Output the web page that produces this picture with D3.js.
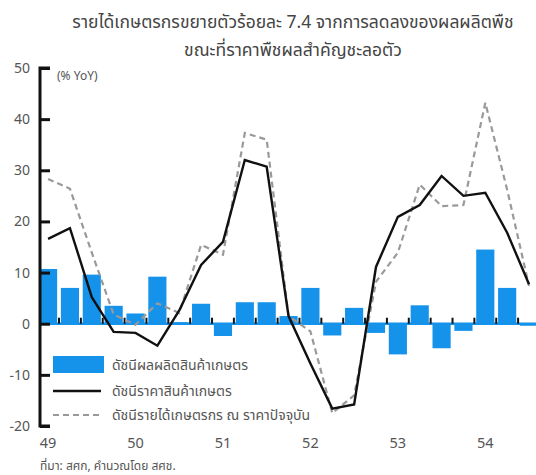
<!DOCTYPE html>
<html>
<head>
<meta charset="utf-8">
<script src="https://cdn.jsdelivr.net/npm/d3@7"></script>
<style>
  html, body { margin: 0; padding: 0; background: #fff; }
  svg { display: block; }
  text { font-family: Tahoma, "Noto Sans Thai", "Leelawadee UI", "Noto Sans", sans-serif; }
</style>
</head>
<body>
<svg id="chart" width="536" height="475"></svg>
<script>
// Quarterly series, 2549 Q1 – 2554 Q3 (% YoY)
const quarters = [
  "49Q1","49Q2","49Q3","49Q4",
  "50Q1","50Q2","50Q3","50Q4",
  "51Q1","51Q2","51Q3","51Q4",
  "52Q1","52Q2","52Q3","52Q4",
  "53Q1","53Q2","53Q3","53Q4",
  "54Q1","54Q2","54Q3"
];
// Agricultural production index
const production = [10.7, 7.0, 9.6, 3.5, 2.0, 9.2, 0.3, 3.9, -2.4, 4.2, 4.2, 1.5,
                    7.0, -2.3, 3.1, -1.8, -6.0, 3.6, -4.8, -1.4, 14.5, 7.0, -0.4];
// Agricultural price index
const price = [16.6, 18.7, 5.2, -1.6, -1.8, -4.3, 2.6, 11.5, 16.0, 32.0, 30.7, 1.5,
               -7.8, -16.6, -15.8, 11.1, 20.9, 23.2, 28.9, 25.0, 25.6, 17.8, 7.7];
// Farm income index at current prices
const income = [28.3, 26.4, 13.9, 1.8, -0.2, 4.0, 2.1, 15.4, 13.5, 37.3, 36.0, 1.5,
                -1.5, -17.5, -14.0, 8.2, 13.9, 27.2, 23.0, 23.2, 43.2, 26.2, 7.4];

const yTicks = [-20, -10, 0, 10, 20, 30, 40, 50];
const yearLabels = [
  { q: "49Q1", label: "49" }, { q: "50Q1", label: "50" }, { q: "51Q1", label: "51" },
  { q: "52Q1", label: "52" }, { q: "53Q1", label: "53" }, { q: "54Q1", label: "54" }
];
const titleLines = [
  "รายได้เกษตรกรขยายตัวร้อยละ 7.4 จากการลดลงของผลผลิตพืช",
  "ขณะที่ราคาพืชผลสำคัญชะลอตัว"
];
const legendItems = [
  { key: "bar", label: "ดัชนีผลผลิตสินค้าเกษตร" },
  { key: "solid", label: "ดัชนีราคาสินค้าเกษตร" },
  { key: "dash", label: "ดัชนีรายได้เกษตรกร ณ ราคาปัจจุบัน" }
];
const unitLabel = "(% YoY)";
const sourceNote = "ที่มา: สศก, คำนวณโดย สศช.";

const svg = d3.select("#chart");
const textColor = "#555";
const barColor = "#1592ea";

const x = d3.scaleBand().domain(quarters).range([39, 39 + 21.7 * quarters.length]).paddingInner(0.17).paddingOuter(0);
const y = d3.scaleLinear().domain([-20, 50]).range([426, 68]);
const cx = q => x(q) + x.bandwidth() / 2;

// Title
svg.append("g").selectAll("text").data(titleLines).join("text")
  .attr("x", 293).attr("y", (d, i) => 28 + i * 28)
  .attr("text-anchor", "middle")
  .attr("font-size", 17.5).attr("fill", "#444")
  .text(d => d);

// Bars
svg.append("g").selectAll("rect").data(quarters).join("rect")
  .attr("x", d => x(d))
  .attr("width", x.bandwidth())
  .attr("y", (d, i) => y(Math.max(0, production[i])))
  .attr("height", (d, i) => Math.abs(y(production[i]) - y(0)))
  .attr("fill", barColor);

// Zero baseline with small quarter separators
svg.append("line")
  .attr("x1", 40).attr("x2", 536)
  .attr("y1", y(0)).attr("y2", y(0))
  .attr("stroke", barColor).attr("stroke-width", 2.5);
svg.append("g").selectAll("line").data(quarters.slice(1)).join("line")
  .attr("x1", d => x(d) - x.step() * 0.085).attr("x2", d => x(d) - x.step() * 0.085)
  .attr("y1", y(0) - 6).attr("y2", y(0))
  .attr("stroke", "#111").attr("stroke-width", 2);

// Lines
const lineGen = vals => d3.line().x((d, i) => cx(quarters[i])).y(d => y(d))(vals);
svg.append("path").attr("d", lineGen(income))
  .attr("fill", "none").attr("stroke", "#999").attr("stroke-width", 2.2)
  .attr("stroke-dasharray", "6,4");
svg.append("path").attr("d", lineGen(price))
  .attr("fill", "none").attr("stroke", "#111").attr("stroke-width", 2.4)
  .attr("stroke-linejoin", "miter");

// Y axis
const yAxis = d3.axisRight(y).tickValues(yTicks).tickSize(10).tickFormat(d3.format("d"));
const yg = svg.append("g").attr("transform", "translate(40,0)").call(yAxis);
yg.select(".domain").attr("stroke", "#111").attr("stroke-width", 3).attr("d", `M10,${y(50)}H0V${y(-20)}H10`);
yg.selectAll(".tick line").attr("stroke", "#111").attr("stroke-width", 3);
yg.selectAll(".tick text")
  .attr("x", -10).attr("text-anchor", "end")
  .attr("font-size", 14).attr("fill", textColor);

svg.append("text").attr("x", 57).attr("y", 80)
  .attr("font-size", 12).attr("fill", textColor).text(unitLabel);

// Year labels
svg.append("g").selectAll("text").data(yearLabels).join("text")
  .attr("x", d => cx(d.q)).attr("y", 448)
  .attr("text-anchor", "middle")
  .attr("font-size", 14.5).attr("fill", textColor)
  .text(d => d.label);

// Legend
const lg = svg.append("g");
const legY = [365, 391, 415];
legendItems.forEach((item, i) => {
  if (item.key === "bar") {
    lg.append("rect").attr("x", 53).attr("y", legY[i] - 9).attr("width", 51).attr("height", 17).attr("fill", barColor);
  } else {
    lg.append("line").attr("x1", 53).attr("x2", 101).attr("y1", legY[i]).attr("y2", legY[i])
      .attr("stroke", item.key === "solid" ? "#111" : "#999")
      .attr("stroke-width", item.key === "solid" ? 2.4 : 2.2)
      .attr("stroke-dasharray", item.key === "dash" ? "6,4" : null);
  }
  lg.append("text").attr("x", 112).attr("y", legY[i] + 5)
    .attr("font-size", 14).attr("fill", textColor).text(item.label);
});

// Source
svg.append("text").attr("x", 40).attr("y", 470)
  .attr("font-size", 12).attr("fill", textColor).text(sourceNote);
</script>
</body>
</html>
